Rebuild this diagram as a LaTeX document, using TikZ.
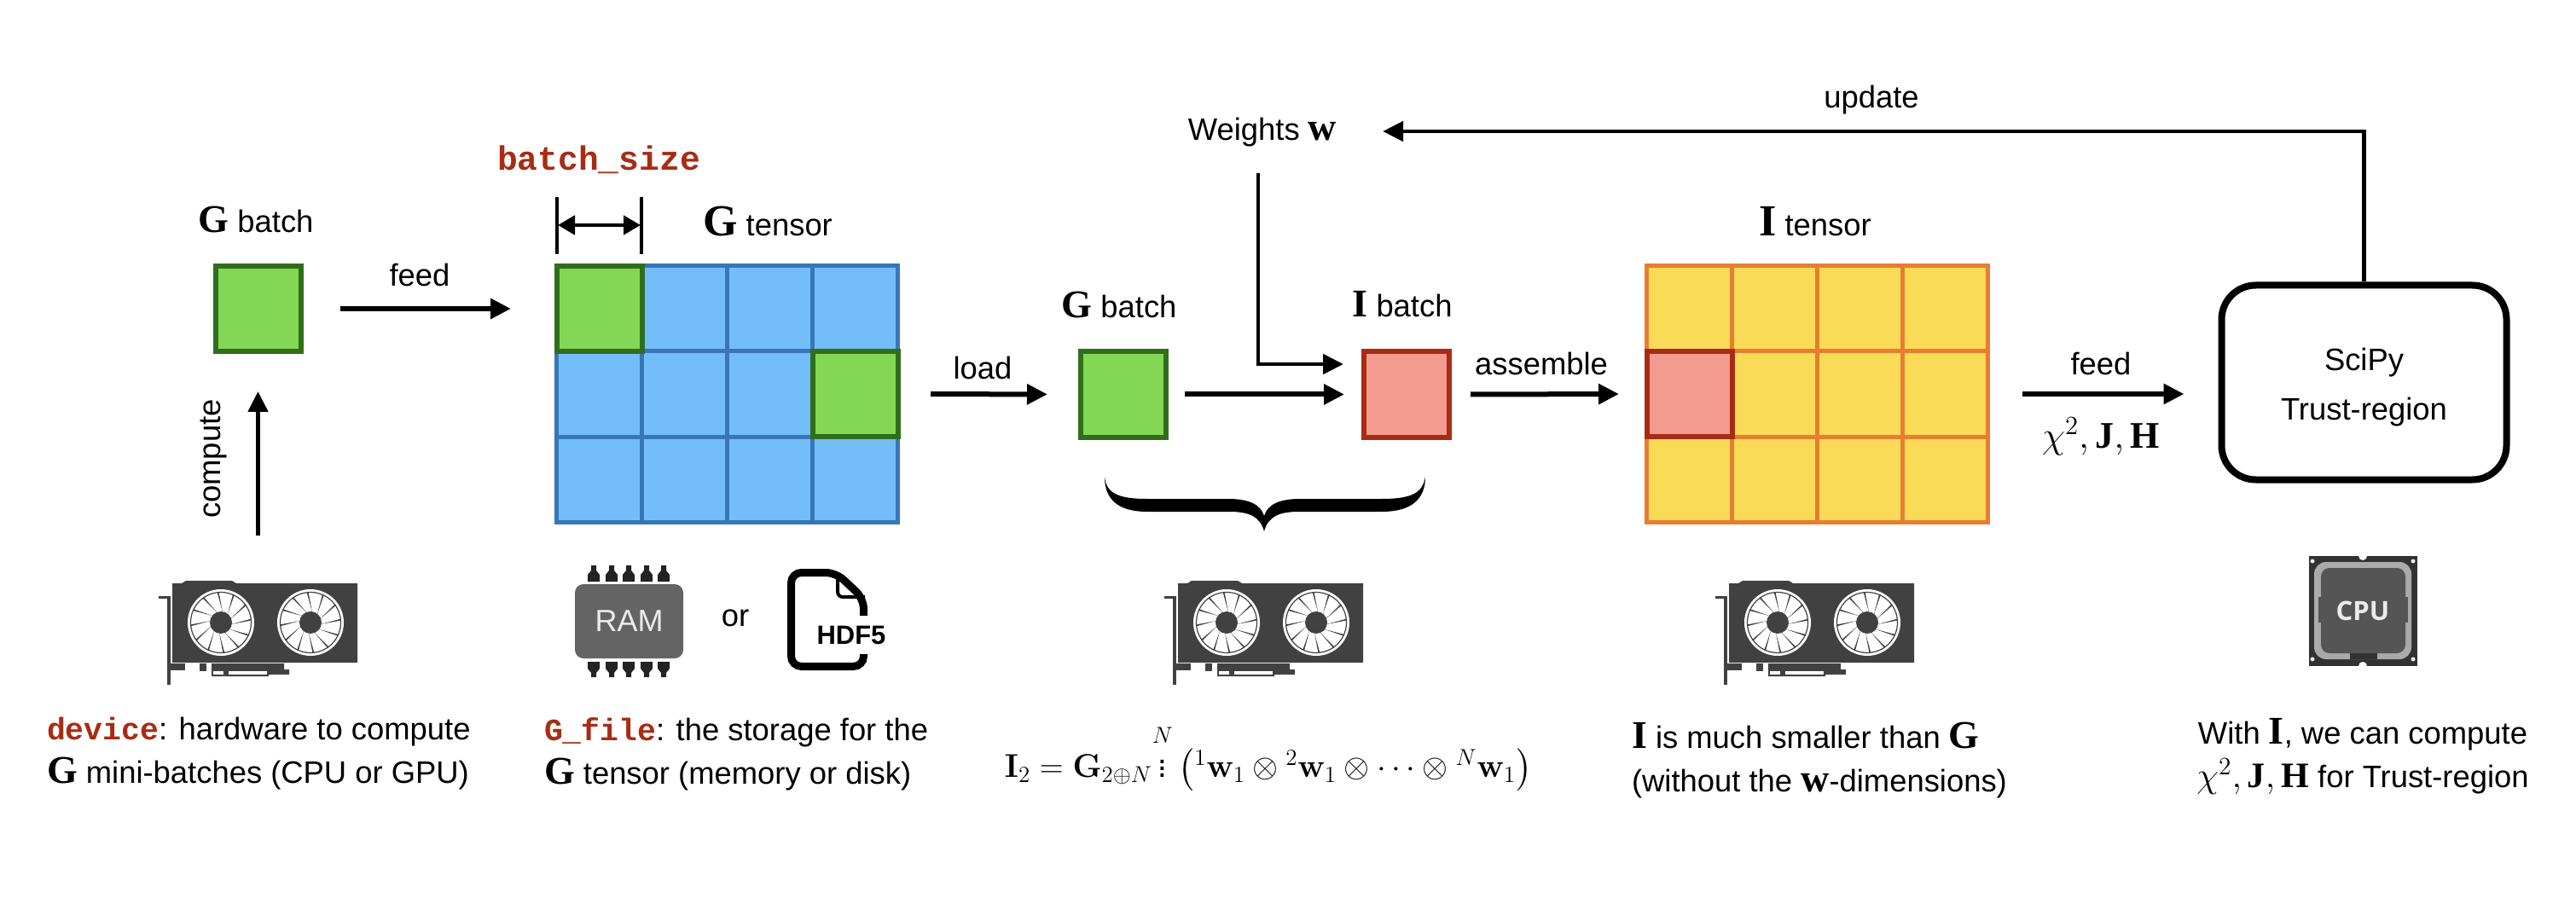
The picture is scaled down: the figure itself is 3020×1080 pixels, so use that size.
\documentclass[tikz,border=0pt]{standalone}
\usepackage{fix-cm}
\usepackage{amsmath}
\usepackage[no-math]{fontspec}
\setmainfont{Liberation Sans}
\setmonofont{Liberation Mono}
\newfontfamily\boldserif{Liberation Serif}[Scale=1.0]
\newfontfamily\cpufont{Open Sans}
\usetikzlibrary{arrows.meta,calc}
\definecolor{batchfill}{RGB}{131,215,84}
\definecolor{batchline}{RGB}{48,110,28}
\definecolor{gtensorfill}{RGB}{115,190,250}
\definecolor{gtensorline}{RGB}{55,118,185}
\definecolor{itensorfill}{RGB}{249,219,88}
\definecolor{itensorline}{RGB}{232,125,48}
\definecolor{ibatchfill}{RGB}{243,155,145}
\definecolor{ibatchline}{RGB}{168,44,20}
\definecolor{codecolor}{RGB}{168,44,20}
\definecolor{gpudark}{RGB}{65,65,65}
\definecolor{ramgray}{RGB}{100,100,100}
\definecolor{pindark}{RGB}{35,35,35}
\definecolor{cpudark}{RGB}{50,50,50}
\definecolor{cpuring}{RGB}{170,170,170}
\definecolor{cpucore}{RGB}{85,85,85}
\newcommand{\bsym}[1]{\text{\boldserif\bfseries #1}}
\newcommand{\bigsym}[1]{{\fontsize{23}{24}\selectfont\boldserif\bfseries #1}}
\newcommand{\hugesym}[1]{{\fontsize{26}{26}\selectfont\boldserif\bfseries #1}}
\newcommand{\code}[1]{{\color{codecolor}\ttfamily\bfseries #1}}
\tikzset{
basetext/.style={
  font=\fontsize{18.2}{25.5}\selectfont,
  text=black,
  inner sep=0pt,
  outer sep=0pt
},
desctext/.style={
  basetext,
  align=left,
  anchor=west
},
centertext/.style={
  basetext,
  align=center
},
mathtext/.style={
  centertext,
  font=\fontsize{22}{25.5}\selectfont
},
gcell/.style={
  draw=gtensorline,
  fill=gtensorfill,
  line width=2.5pt,
  minimum width=50pt,
  minimum height=50pt,
  inner sep=0pt
},
icell/.style={
  gcell,
  draw=itensorline,
  fill=itensorfill
},
batchcell/.style={
  gcell,
  draw=batchline,
  fill=batchfill,
  line width=3pt
},
ibatchcell/.style={
  gcell,
  draw=ibatchline,
  fill=ibatchfill,
  line width=3pt
},
flow/.style={
  -{Triangle[length=12pt,width=11.5pt]},
  line width=3pt,
  draw=black
},
thinflow/.style={
  flow,
  line width=2.4pt
},
trustbox/.style={
  draw=black,
  fill=white,
  line width=4pt,
  rounded corners=20pt,
  minimum width=167pt,
  minimum height=114pt,
  align=center,
  font=\fontsize{18.2}{29}\selectfont
},
gpuicon/.pic={
  % Card body
  \fill[gpudark] (16,3) -- (27,3) -- (32,0) -- (86,0) -- (91,3) -- (233,3) -- (233,96) -- (16,96) -- cycle;
  % Bracket and connectors
  \fill[gpudark] (0,18) rectangle (14,21);
  \fill[gpudark] (10,18) rectangle (14,122);
  \fill[gpudark] (14,97) rectangle (31,105);
  \fill[gpudark] (48,97) rectangle (56,106);
  \fill[gpudark] (62,97) -- (147,97) -- (147,104) -- (153,104) -- (153,110) -- (129,110) -- (129,112) -- (62,112) -- cycle;
  \fill[white] (64,106) rectangle (76,110);
  \fill[white] (82,106) rectangle (127,110);
  % Fans
  \foreach \fanx in {73,178} {
    \fill[white] (\fanx,49) circle[radius=39];
    \draw[gpudark,line width=0.6pt] (\fanx,49) circle[radius=35.5];
    \foreach \a in {10,40,...,340} {
      \fill[gpudark] ($(\fanx,49)+(\a:12)$) -- ($(\fanx,49)+(\a-14:36)$) -- ($(\fanx,49)+(\a-17:36)$) -- cycle;
    }
    \fill[gpudark] (\fanx,49) circle[radius=13];
  }
}
}
\begin{document}
\begin{tikzpicture}[x=0.5pt,y=-0.5pt]
  \useasboundingbox (0,0) rectangle (3020,1080);
  \fill[white] (0,0) rectangle (3020,1080);
  % G tensor grid
  \foreach \i in {0,...,3} \foreach \j in {0,...,2}
    \node[gcell] (gt-\i-\j) at ({702.5+100*\i},{362+100*\j}) {};
  \node[batchcell] (gt-green-a) at (702.5,362) {};
  \node[batchcell] (gt-green-b) at (1002.5,462) {};
  % I tensor grid
  \foreach \i in {0,...,3} \foreach \j in {0,...,2}
    \node[icell] (it-\i-\j) at ({1980.5+100*\i},{362+100*\j}) {};
  \node[ibatchcell] (it-red) at (1980.5,462) {};
  % Batches
  \node[batchcell] (gbatchA) at (302.5,362) {};
  \node[batchcell] (gbatchB) at (1317,462.5) {};
  \node[ibatchcell] (ibatch) at (1649,462.5) {};
  \node[trustbox] (trust) at (2771.5,448.5) {\rule{0pt}{19pt}SciPy\\Trust-region};
  % Labels above
  \node[centertext] (gbatchAlabel) at (300,257) {\bigsym{G} batch};
  \node[centertext] (gbatchBlabel) at (1312,357) {\bigsym{G} batch};
  \node[centertext] (ibatchlabel) at (1644,357) {\bigsym{I} batch};
  \node[centertext] (gtensorlabel) at (900,260) {\hugesym{G} tensor};
  \node[centertext] (itensorlabel) at (2128,260) {\hugesym{I} tensor};
  \node[centertext,font=\fontsize{19.8}{22}\selectfont] (sizelabel) at (702,187) {\code{batch\_size}};
  \node[centertext] (weights) at (1480,155) {Weights \bigsym{w}};
  \node[centertext] (updatelabel) at (2194,117) {update};
  \node[centertext] (feedA) at (492,322) {feed};
  \node[centertext] (loadlabel) at (1152,431) {load};
  \node[centertext] (assemblelabel) at (1807,426) {assemble};
  \node[centertext] (feedB) at (2463,426) {feed};
  \node[mathtext] (feedsym) at (2463,512) {$\chi^2,\bsym{J},\bsym{H}$};
  \node[centertext,rotate=90] (computelabel) at (251,538) {compute};
  % Arrows
  \draw[flow,shorten <=21.5pt,shorten >=25.5pt] (gbatchA.east) -- (gt-0-0.west);
  \draw[flow,shorten <=18pt,shorten >=18pt] (gt-3-1.east) -- (gbatchB.west);
  \draw[flow,shorten <=9.5pt,shorten >=10pt] (gbatchB.east) -- (ibatch.west);
  \draw[flow,shorten <=11pt,shorten >=15pt] (ibatch.east) -- (it-0-1.west);
  \draw[flow,shorten <=19pt,shorten >=20pt] (it-3-1.east) -- (trust.west |- it-3-1.east);
  \coordinate (updatecorner) at (2771.5,154);
  \coordinate (weightscorner) at (1475,427);
  \coordinate (computeend) at (302.5,628);
  \draw[thinflow,shorten >=27pt] (trust.north) -- (updatecorner) -- (weights.east |- updatecorner);
  \draw[thinflow,shorten >=10.5pt] (weightscorner |- 0,203) -- (weightscorner) -- (ibatch.west |- weightscorner);
  \draw[thinflow,shorten >=22pt] (computeend) -- (gbatchA.south);
  % Batch size bracket
  \draw[line width=2.2pt] (653,231) -- (653,298);
  \draw[line width=2.2pt] (752,231) -- (752,298);
  \coordinate (sizeleft) at (654,264);
  \coordinate (sizeright) at (751,264);
  \draw[{Triangle[length=10pt,width=11pt]}-{Triangle[length=10pt,width=11pt]},line width=2.4pt] (sizeleft) -- (sizeright);
  % Brace
  \fill[black] (1295,559) .. controls (1297,578) and (1310,585) .. (1345,585) -- (1440,585) .. controls (1465,585) and (1478,592) .. (1482,605) .. controls (1486,592) and (1499,585) .. (1524,585) -- (1620,585) .. controls (1655,585) and (1668,578) .. (1671,559) .. controls (1671,585) and (1655,600) .. (1620,600) -- (1524,600) .. controls (1500,600) and (1487,605) .. (1482,623) .. controls (1477,605) and (1464,600) .. (1440,600) -- (1345,600) .. controls (1310,600) and (1295,585) .. (1295,559) -- cycle;
  % GPU icons
  \pic at (186,681) {gpuicon};
  \pic at (1365,681) {gpuicon};
  \pic at (2011,681) {gpuicon};
  % RAM icon
  \foreach \p in {696,717,737,758,778} {
    \fill[pindark] (\p-7,682) -- (\p-7,674) -- (\p-3,669) -- (\p-3,663) -- (\p+3,663) -- (\p+3,669) -- (\p+7,674) -- (\p+7,682) -- cycle;
    \fill[pindark] (\p-7,776) -- (\p-7,784) -- (\p-3,789) -- (\p-3,794) -- (\p+3,794) -- (\p+3,789) -- (\p+7,784) -- (\p+7,776) -- cycle;
  }
  \node[fill=ramgray,rounded corners=5pt,minimum width=63.5pt,minimum height=43.5pt,inner sep=0pt,
    text=white!92!black,font=\fontsize{18}{20}\selectfont] (ram) at (737.5,728.5) {RAM};
  \node[centertext] (orlabel) at (862,725) {or};
  % HDF5 icon
  \draw[line width=4.5pt,rounded corners=6pt] (1012.5,722) -- (1012.5,702) -- (980,671.5) -- (927.5,671.5) -- (927.5,781.5) -- (1012.5,781.5) -- (1012.5,767);
  \draw[line width=2pt,rounded corners=3pt] (982,671) -- (982,700) -- (1014,700);
  \node[font=\fontsize{15.5}{17}\selectfont\bfseries,inner sep=0pt] (hdflabel) at (998,745) {HDF5};
  % CPU icon
  \fill[cpudark] (2707,652) rectangle (2834,781);
  \fill[white] (2770,652) circle[radius=5];
  \fill[white] (2770,781) circle[radius=5];
  \foreach \cx/\cy in {2711/658,2829/658,2711/773,2829/773}
    \fill[white!92!black] (\cx,\cy) circle[radius=2.5];
  \fill[cpuring,rounded corners=7pt] (2713,659) rectangle (2827,773);
  \fill[cpucore,rounded corners=5pt] (2721,666) rectangle (2820,766);
  \fill[cpucore] (2718,700) rectangle (2823,730);
  \fill[cpudark] (2755,766) rectangle (2787,773);
  \node[font=\fontsize{15.5}{17}\selectfont\cpufont\bfseries,text=white!92!black,inner sep=0pt] (cpulabel) at (2770,716) {CPU};
  % Descriptions
  \node[desctext] (devicedesc) at (55,884) {\code{device}: hardware to compute\\\bigsym{G} mini-batches (CPU or GPU)};
  \node[desctext] (filedesc) at (638,884) {\code{G\_file}: the storage for the\\\bigsym{G} tensor (memory or disk)};
  \node[centertext,font=\fontsize{19.3}{22}\selectfont] (formula) at (1487,888) {$\mathbf{I}_2=\mathbf{G}_{2\oplus N}\overset{N}{\vdots}\left({}^1\mathbf{w}_1\otimes{}^2\mathbf{w}_1\otimes\cdots\otimes{}^N\mathbf{w}_1\right)$};
  \node[desctext] (idesc) at (1913,892) {\bigsym{I} is much smaller than \bigsym{G}\\(without the \bigsym{w}-dimensions)};
  \node[centertext] (cpudesc) at (2770,887) {With \bigsym{I}, we can compute\\{\fontsize{21}{25.5}\selectfont$\chi^2,\bsym{J},\bsym{H}$} for Trust-region};
\end{tikzpicture}
\end{document}
